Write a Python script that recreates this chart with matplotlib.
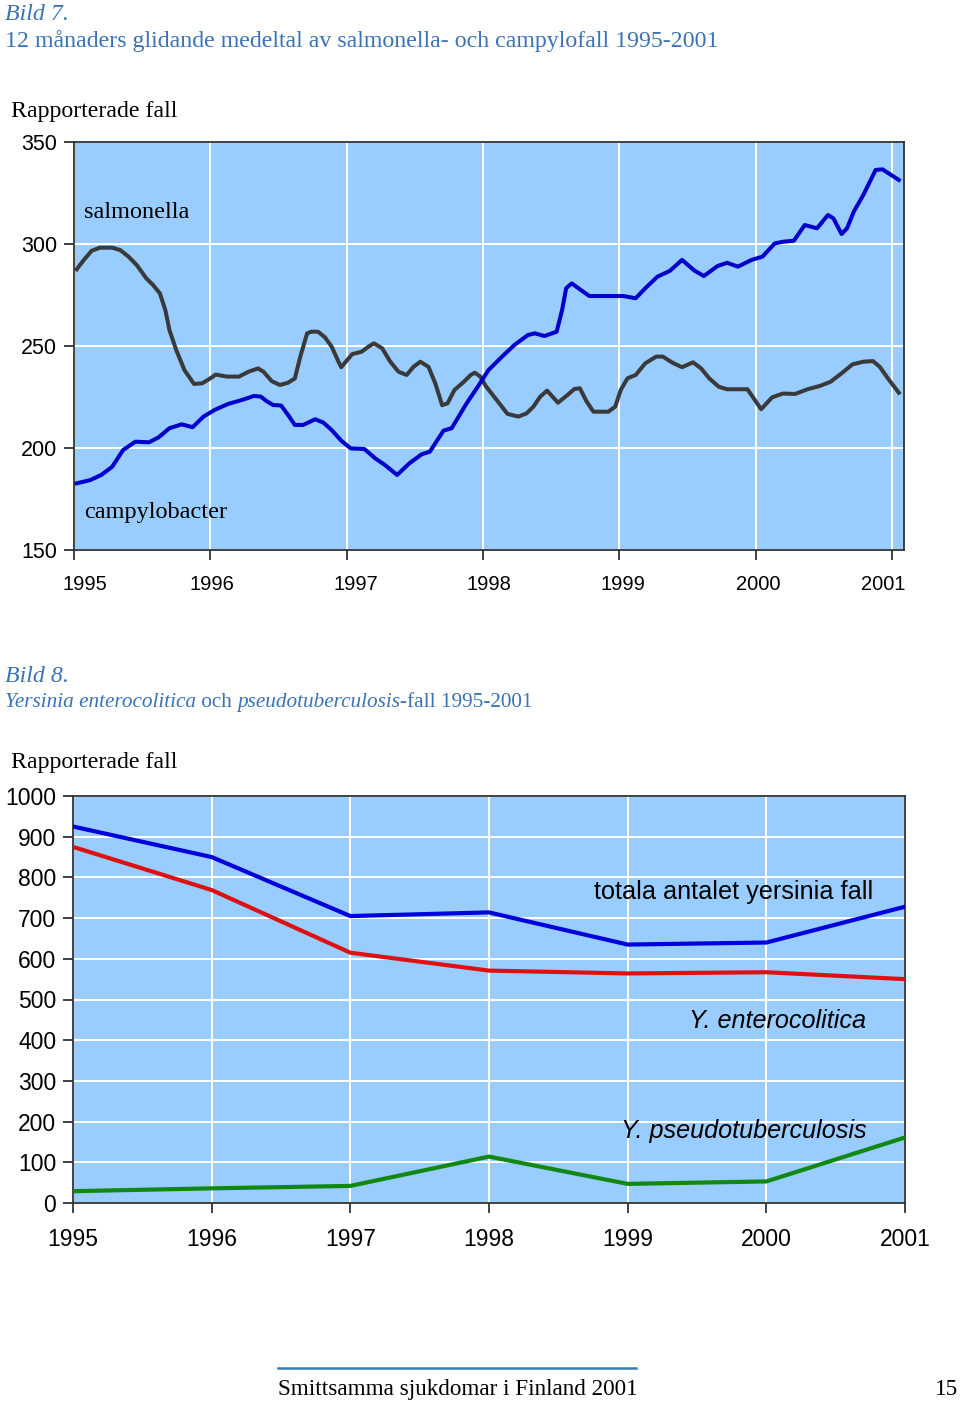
import matplotlib
matplotlib.use("Agg")
import matplotlib.pyplot as plt
from matplotlib.transforms import ScaledTranslation

# ---------------- data ----------------
years = [1995, 1996, 1997, 1998, 1999, 2000, 2001]
year_labels = ["1995", "1996", "1997", "1998", "1999", "2000", "2001"]

# Bild 7: 12-month moving averages (decimal year, cases)
sal_t = [1995.02, 1995.07, 1995.13, 1995.19, 1995.28, 1995.34, 1995.40, 1995.46, 1995.53, 1995.58,
         1995.63, 1995.67, 1995.70, 1995.75, 1995.81, 1995.88, 1995.94, 1995.99, 1996.04, 1996.12,
         1996.21, 1996.28, 1996.35, 1996.39, 1996.45, 1996.51, 1996.57, 1996.62, 1996.66, 1996.71,
         1996.74, 1996.79, 1996.84, 1996.89, 1996.94, 1996.96, 1997.04, 1997.11, 1997.16, 1997.20,
         1997.26, 1997.32, 1997.38, 1997.44, 1997.49, 1997.54, 1997.60, 1997.65, 1997.70, 1997.74,
         1997.79, 1997.86, 1997.91, 1997.94, 1997.98, 1998.02, 1998.09, 1998.18, 1998.26, 1998.32,
         1998.37, 1998.42, 1998.47, 1998.55, 1998.62, 1998.67, 1998.71, 1998.76, 1998.81, 1998.92,
         1998.97, 1999.01, 1999.06, 1999.12, 1999.19, 1999.27, 1999.32, 1999.39, 1999.46, 1999.54,
         1999.60, 1999.66, 1999.73, 1999.79, 1999.94, 2000.04, 2000.12, 2000.20, 2000.29, 2000.38,
         2000.47, 2000.55, 2000.63, 2000.71, 2000.79, 2000.86, 2000.91, 2000.97, 2001.05]
sal_v = [287.6, 292.0, 296.7, 298.2, 298.2, 297.0, 293.8, 289.7, 283.2, 279.9,
         275.8, 267.6, 257.8, 248.0, 238.2, 231.4, 231.7, 233.7, 236.0, 235.0,
         235.0, 237.4, 239.0, 237.4, 232.8, 230.9, 232.0, 234.1, 244.8, 256.2,
         257.0, 257.0, 254.3, 249.7, 242.3, 239.6, 246.0, 247.2, 249.7, 251.3,
         248.9, 242.3, 237.4, 235.8, 239.8, 242.3, 239.8, 231.7, 221.0, 221.9,
         228.4, 232.5, 235.8, 236.9, 235.0, 230.4, 224.4, 216.7, 215.4, 217.0,
         220.3, 225.2, 228.1, 222.2, 226.0, 228.9, 229.3, 222.8, 217.8, 217.8,
         220.3, 228.4, 234.2, 235.8, 241.5, 244.8, 244.8, 241.8, 239.6, 242.0,
         239.0, 234.1, 230.0, 228.8, 228.8, 219.0, 224.8, 226.7, 226.5, 228.8,
         230.4, 232.5, 236.6, 241.0, 242.3, 242.6, 239.8, 234.1, 227.1]

camp_t = [1995.02, 1995.12, 1995.20, 1995.28, 1995.36, 1995.45, 1995.55, 1995.62, 1995.70, 1995.79,
          1995.87, 1995.95, 1996.03, 1996.13, 1996.23, 1996.32, 1996.37, 1996.41, 1996.46, 1996.52,
          1996.57, 1996.62, 1996.68, 1996.77, 1996.83, 1996.89, 1996.96, 1997.03, 1997.13, 1997.21,
          1997.28, 1997.37, 1997.46, 1997.55, 1997.61, 1997.71, 1997.77, 1997.88, 1997.97, 1998.04,
          1998.14, 1998.23, 1998.33, 1998.38, 1998.45, 1998.54, 1998.58, 1998.61, 1998.65, 1998.70,
          1998.78, 1999.03, 1999.12, 1999.19, 1999.28, 1999.37, 1999.46, 1999.55, 1999.62, 1999.72,
          1999.79, 1999.87, 1999.97, 2000.05, 2000.14, 2000.20, 2000.28, 2000.36, 2000.45, 2000.53,
          2000.57, 2000.63, 2000.67, 2000.72, 2000.79, 2000.88, 2000.93, 2001.05]
camp_v = [182.7, 184.3, 186.8, 190.8, 199.0, 203.1, 202.8, 205.2, 209.7, 211.6,
          210.2, 215.4, 218.6, 221.6, 223.5, 225.5, 225.2, 223.1, 221.1, 220.8,
          216.2, 211.3, 211.3, 214.1, 212.4, 208.8, 203.6, 199.8, 199.5, 194.9,
          191.7, 186.8, 192.5, 196.9, 198.2, 208.5, 209.7, 221.9, 230.9, 238.2,
          244.8, 250.5, 255.4, 256.2, 254.9, 257.0, 267.6, 278.3, 280.7, 278.3,
          274.5, 274.5, 273.4, 278.3, 284.0, 286.8, 292.2, 287.0, 284.3, 289.2,
          290.8, 288.9, 292.2, 293.8, 300.3, 301.1, 301.6, 309.3, 307.7, 314.2,
          312.6, 304.9, 307.7, 315.9, 324.1, 336.3, 336.6, 331.4]

# Bild 8: yearly cases
yers_total = [925, 850, 705, 714, 635, 640, 728]
yers_entero = [875, 769, 615, 571, 564, 567, 550]
yers_pseudo = [29, 36, 42, 114, 47, 53, 161]

# ---------------- style ----------------
BG = "#99CCFF"
SPINE = "#333333"
TITLE_BLUE = "#3a72b4"
SERIF = ["Liberation Serif", "DejaVu Serif"]
SANS = ["Liberation Sans", "DejaVu Sans"]

W, H = 960, 1405
fig = plt.figure(figsize=(W / 100, H / 100), dpi=100)
fig.patch.set_facecolor("white")


def px_axes(l, t, r, b):
    return fig.add_axes([l / W, 1 - b / H, (r - l) / W, (b - t) / H])


def style_axes(ax, fs):
    ax.set_facecolor(BG)
    for s in ax.spines.values():
        s.set_color(SPINE)
        s.set_linewidth(1.3)
    ax.tick_params(axis="both", direction="out", length=7, width=1.3, color=SPINE,
                   labelsize=fs, labelcolor="black")
    ax.tick_params(axis="x", pad=11)
    ax.tick_params(axis="y", pad=5)
    for lab in ax.get_xticklabels() + ax.get_yticklabels():
        lab.set_family(SANS)
    ax.set_axisbelow(True)


# ---------------- Bild 7 ----------------
ax1 = px_axes(74, 142, 904, 550)
ax1.plot(sal_t, sal_v, color="#3a3a3a", lw=2.9, solid_joinstyle="round", zorder=3)
ax1.plot(camp_t, camp_v, color="#0000cc", lw=2.9, solid_joinstyle="round", zorder=3)
ax1.set_xlim(1995, 2001.088)
ax1.set_ylim(150, 350)
ax1.set_yticks([150, 200, 250, 300, 350])
ax1.set_xticks(years)
ax1.set_xticklabels(year_labels)
ax1.grid(True, color="white", lw=1.4)
style_axes(ax1, 14.5)
for lab in ax1.get_yticklabels():
    lab.set_fontsize(15.5)
shifts = [11, 2, 9, 6, 4, 3, -9]
for lab, dx in zip(ax1.get_xticklabels(), shifts):
    lab.set_transform(lab.get_transform() + ScaledTranslation(dx / 100, 0, fig.dpi_scale_trans))
ax1.text(1995.075, 315.5, "salmonella", family=SERIF, fontsize=17.5, va="center", ha="left")
ax1.text(1995.075, 168.5, "campylobacter", family=SERIF, fontsize=17.5, va="center", ha="left")

# ---------------- Bild 8 ----------------
ax2 = px_axes(73, 796, 905, 1203)
ax2.plot(years, yers_total, color="#0000dd", lw=3.0, zorder=3)
ax2.plot(years, yers_entero, color="#dd1111", lw=3.0, zorder=3)
ax2.plot(years, yers_pseudo, color="#118811", lw=3.0, zorder=3)
ax2.set_xlim(1995, 2001)
ax2.set_ylim(0, 1000)
ax2.set_yticks(range(0, 1001, 100))
ax2.set_xticks(years)
ax2.set_xticklabels(year_labels)
ax2.grid(True, color="white", lw=1.4)
style_axes(ax2, 16.5)
ax2.text(2000.77, 765, "totala antalet yersinia fall", family=SANS, fontsize=18.2,
         ha="right", va="center")
ax2.text(2000.72, 446, "Y. enterocolitica", family=SANS, fontsize=18.2, style="italic",
         ha="right", va="center")
ax2.text(2000.72, 177, "Y. pseudotuberculosis", family=SANS, fontsize=18.2, style="italic",
         ha="right", va="center")


# ---------------- page texts ----------------
def ftext(x, y, s, **kw):
    return fig.text(x / W, 1 - y / H, s, **kw)


TFS = 17.2
ftext(5, 20, "Bild 7.", family=SERIF, style="italic", fontsize=TFS, color=TITLE_BLUE, va="baseline")
ftext(5, 47, "12 månaders glidande medeltal av salmonella- och campylofall 1995-2001",
      family=SERIF, fontsize=TFS, color=TITLE_BLUE, va="baseline")
ftext(11, 117, "Rapporterade fall", family=SERIF, fontsize=TFS, color="black", va="baseline")

ftext(5, 682, "Bild 8.", family=SERIF, style="italic", fontsize=TFS, color=TITLE_BLUE, va="baseline")
parts = [("Yersinia enterocolitica", "italic"), (" och ", "normal"),
         ("pseudotuberculosis", "italic"), ("-fall 1995-2001", "normal")]
renderer = fig.canvas.get_renderer()
xpos = 5.0
for s, st in parts:
    t = ftext(xpos, 707, s, family=SERIF, style=st, fontsize=15.3, color=TITLE_BLUE,
              va="baseline", ha="left")
    xpos += t.get_window_extent(renderer).width

ftext(11, 768, "Rapporterade fall", family=SERIF, fontsize=TFS, color="black", va="baseline")

# footer
fig.add_artist(plt.Line2D([278 / W, 636 / W], [1 - 1368 / H, 1 - 1368 / H],
                          color="#3a7ab8", lw=1.8))
ftext(278, 1395, "Smittsamma sjukdomar i Finland 2001", family=SERIF, fontsize=16.7, va="baseline")
ftext(958, 1395, "15", family=SERIF, fontsize=16.7, va="baseline", ha="right")

fig.savefig("out.png", dpi=100)
